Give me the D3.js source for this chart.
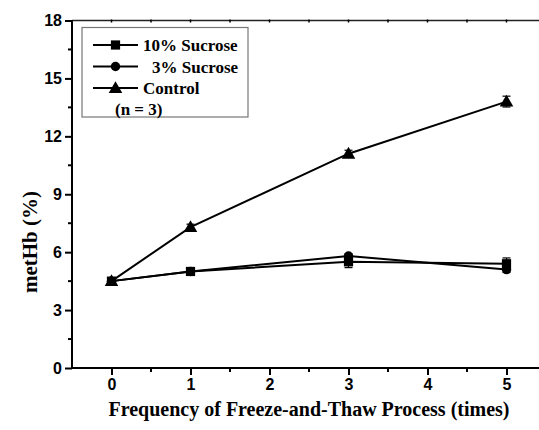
<!DOCTYPE html>
<html>
<head>
<meta charset="utf-8">
<script src="https://cdn.jsdelivr.net/npm/d3@7"></script>
<style>
  html, body { margin: 0; padding: 0; background: #fff; }
  svg { display: block; }
</style>
</head>
<body>
<svg id="chart" width="539" height="430"></svg>
<script>
// Freeze-and-thaw cycles
const cycles = [0, 1, 3, 5];

// metHb (%) per group
const sucrose10 = [4.5, 5.0, 5.5, 5.4];
const sucrose3 = [4.5, 5.0, 5.8, 5.1];
const control = [4.5, 7.3, 11.1, 13.8];

// error bar half-lengths (SD)
const sucrose10Err = [0.1, 0.1, 0.3, 0.3];
const sucrose3Err = [0.1, 0.1, 0.12, 0.15];
const controlErr = [0.12, 0.15, 0.18, 0.28];

const xTicks = [0, 1, 2, 3, 4, 5];
const yTicks = [0, 3, 6, 9, 12, 15, 18];

const seriesNames = ["10% Sucrose", "3% Sucrose", "Control"];
const noteText = "(n = 3)";
const xTitle = "Frequency of Freeze-and-Thaw Process (times)";
const yTitle = "metHb (%)";

const svg = d3.select("#chart");
const serif = "'Liberation Serif', 'Times New Roman', serif";
const sans = "'Liberation Sans', Arial, sans-serif";

const x = d3.scaleLinear().domain([-0.5, 5.5]).range([72, 546]);
const y = d3.scaleLinear().domain([0, 18]).range([368, 20.5]);

// frame: top and right edges
svg.append("line").attr("x1", x(-0.5)).attr("x2", x(5.5))
  .attr("y1", y(18)).attr("y2", y(18))
  .attr("stroke", "#222").attr("stroke-width", 1.5);
svg.append("line").attr("x1", x(5.5)).attr("x2", x(5.5))
  .attr("y1", y(0)).attr("y2", y(18))
  .attr("stroke", "#222").attr("stroke-width", 1.5);
// small ticks on the top edge
const topTicks = d3.range(0, 5.51, 0.5);
svg.append("g").selectAll("line").data(topTicks).join("line")
  .attr("x1", d => x(d)).attr("x2", d => x(d))
  .attr("y1", y(18) - 1).attr("y2", y(18) + 2)
  .attr("stroke", "#000").attr("stroke-width", 1.5);

// bottom axis
const xAxis = svg.append("g").attr("transform", `translate(0,${y(0)})`)
  .call(d3.axisBottom(x).tickValues(xTicks).tickSize(7).tickPadding(4).tickFormat(d3.format("d")));
xAxis.select(".domain").attr("stroke-width", 2).attr("d", `M${x(-0.5)},0H${x(5.5)}`);
xAxis.selectAll(".tick line").attr("stroke-width", 2);
xAxis.selectAll("text").attr("font-family", sans).attr("font-weight", "bold").attr("font-size", 16).attr("fill", "#000");
// minor x ticks
svg.append("g").selectAll("line").data(d3.range(-0.5, 5.51, 1).filter(d => d > -0.5))
  .join("line")
  .attr("x1", d => x(d)).attr("x2", d => x(d))
  .attr("y1", y(0)).attr("y2", y(0) + 4)
  .attr("stroke", "#000").attr("stroke-width", 2);

// left axis
const yAxis = svg.append("g").attr("transform", `translate(${x(-0.5)},0)`)
  .call(d3.axisLeft(y).tickValues(yTicks).tickSize(7).tickPadding(3));
yAxis.select(".domain").attr("stroke-width", 2).attr("d", `M0,${y(0)}V${y(18)}`);
yAxis.selectAll(".tick line").attr("stroke-width", 2);
yAxis.selectAll("text").attr("font-family", sans).attr("font-weight", "bold").attr("font-size", 16).attr("fill", "#000");
// minor y ticks
svg.append("g").selectAll("line").data(d3.range(1.5, 18, 3))
  .join("line")
  .attr("x1", x(-0.5) - 4).attr("x2", x(-0.5))
  .attr("y1", d => y(d)).attr("y2", d => y(d))
  .attr("stroke", "#000").attr("stroke-width", 2);

// axis titles
svg.append("text")
  .attr("x", 309).attr("y", 416)
  .attr("text-anchor", "middle")
  .attr("font-family", serif).attr("font-weight", "bold").attr("font-size", 20)
  .text(xTitle);
svg.append("text")
  .attr("transform", `translate(37,${242}) rotate(-90)`)
  .attr("text-anchor", "middle")
  .attr("font-family", serif).attr("font-weight", "bold").attr("font-size", 21)
  .text(yTitle);

// series
const series = [
  { name: seriesNames[2], values: control, err: controlErr, symbol: d3.symbolTriangle, size: 80 },
  { name: seriesNames[1], values: sucrose3, err: sucrose3Err, symbol: d3.symbolCircle, size: 70 },
  { name: seriesNames[0], values: sucrose10, err: sucrose10Err, symbol: d3.symbolSquare, size: 85 }
];

const line = d3.line().x(d => x(d[0])).y(d => y(d[1]));

series.forEach(s => {
  const pts = cycles.map((c, i) => [c, s.values[i], s.err[i]]);
  svg.append("path").datum(pts)
    .attr("d", line).attr("fill", "none")
    .attr("stroke", "#000").attr("stroke-width", 2);
});

series.forEach(s => {
  const pts = cycles.map((c, i) => [c, s.values[i], s.err[i]]);
  const g = svg.append("g");
  // error bars
  pts.forEach(p => {
    const xc = x(p[0]);
    const y1 = y(p[1] - p[2]), y2 = y(p[1] + p[2]);
    g.append("line").attr("x1", xc).attr("x2", xc).attr("y1", y1).attr("y2", y2)
      .attr("stroke", "#000").attr("stroke-width", 1.2);
    [y1, y2].forEach(yy => g.append("line")
      .attr("x1", xc - 4).attr("x2", xc + 4).attr("y1", yy).attr("y2", yy)
      .attr("stroke", "#000").attr("stroke-width", 1.2));
  });
  g.selectAll("path.mk").data(pts).join("path").attr("class", "mk")
    .attr("transform", d => `translate(${x(d[0])},${y(d[1]) + (s.symbol === d3.symbolTriangle ? 1 : 0)})`)
    .attr("d", d3.symbol(s.symbol, s.size))
    .attr("fill", "#000");
});

// legend
const lg = svg.append("g");
lg.append("rect").attr("x", 82).attr("y", 27.5).attr("width", 166).attr("height", 89.5)
  .attr("fill", "#fff").attr("stroke", "#777").attr("stroke-width", 1.2);
const legendRows = [
  { name: seriesNames[0], symbol: d3.symbolSquare, size: 85, textX: 143 },
  { name: seriesNames[1], symbol: d3.symbolCircle, size: 70, textX: 152 },
  { name: seriesNames[2], symbol: d3.symbolTriangle, size: 80, textX: 143 }
];
legendRows.forEach((r, i) => {
  const yy = 45 + i * 21.5;
  lg.append("line").attr("x1", 93).attr("x2", 138).attr("y1", yy).attr("y2", yy)
    .attr("stroke", "#000").attr("stroke-width", 2);
  lg.append("path").attr("transform", `translate(115.5,${yy + (r.symbol === d3.symbolTriangle ? 1 : 0)})`)
    .attr("d", d3.symbol(r.symbol, r.size)).attr("fill", "#000");
  lg.append("text").attr("x", r.textX).attr("y", yy + 6)
    .attr("font-family", serif).attr("font-weight", "bold").attr("font-size", 17)
    .text(r.name);
});
lg.append("text").attr("x", 115).attr("y", 115)
  .attr("font-family", serif).attr("font-weight", "bold").attr("font-size", 17)
  .text(noteText);
</script>
</body>
</html>
